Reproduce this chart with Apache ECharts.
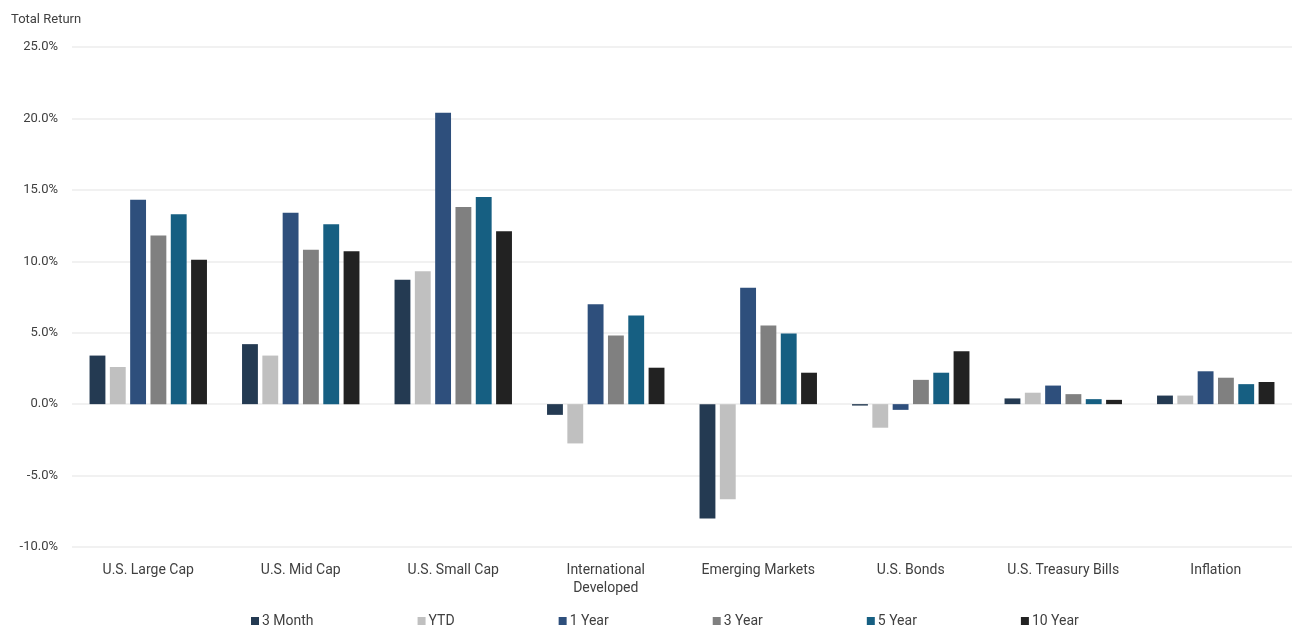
<!DOCTYPE html>
<html>
<head>
<meta charset="utf-8">
<script src="https://cdn.jsdelivr.net/npm/echarts@6/dist/echarts.min.js"></script>
<style>
  html, body { margin: 0; padding: 0; background: #fff; }
  #chart { width: 1294px; height: 635px; }
</style>
</head>
<body>
<div id="chart"></div>
<script>
// asset classes
const categories = ["U.S. Large Cap", "U.S. Mid Cap", "U.S. Small Cap", "International\nDeveloped",
  "Emerging Markets", "U.S. Bonds", "U.S. Treasury Bills", "Inflation"];

// returns in %
const month3 = [3.4, 4.2, 8.7, -0.75, -8.0, -0.1, 0.4, 0.6];
const ytd = [2.6, 3.4, 9.3, -2.75, -6.65, -1.65, 0.8, 0.6];
const year1 = [14.3, 13.4, 20.4, 7.0, 8.15, -0.4, 1.3, 2.3];
const year3 = [11.8, 10.8, 13.8, 4.8, 5.5, 1.7, 0.7, 1.85];
const year5 = [13.3, 12.6, 14.5, 6.2, 4.95, 2.2, 0.35, 1.4];
const year10 = [10.1, 10.7, 12.1, 2.55, 2.2, 3.7, 0.3, 1.55];

const yTicks = [-10, -5, 0, 5, 10, 15, 20, 25];

const seriesNames = ["3 Month", "YTD", "1 Year", "3 Year", "5 Year", "10 Year"];
const seriesData = [month3, ytd, year1, year3, year5, year10];
const colors = ["#243a52", "#c0c0c0", "#2e4f7c", "#808080", "#165f82", "#222222"];

const font = "Roboto, sans-serif";

let mychart = echarts.init(document.getElementById("chart"));
mychart.setOption({
  animation: false,
  color: colors,
  textStyle: { fontFamily: font },
  title: {
    text: "Total Return",
    left: 6,
    top: 8,
    textStyle: { fontSize: 13, fontWeight: "normal", color: "#404040", fontFamily: font },
  },
  legend: {
    data: seriesNames,
    bottom: 2,
    left: 246,
    itemGap: 104,
    itemWidth: 8,
    itemHeight: 8,
    icon: "rect",
    textStyle: { fontSize: 14, color: "#404040", padding: [0, 0, 0, -2] },
  },
  grid: { left: 72, right: 2, top: 47, bottom: 88 },
  xAxis: {
    type: "category",
    data: categories,
    axisLine: { show: false },
    axisTick: { show: false },
    axisLabel: { color: "#404040", fontSize: 14, margin: 14, lineHeight: 18, interval: 0 },
  },
  yAxis: {
    type: "value",
    min: yTicks[0],
    max: yTicks[yTicks.length - 1],
    interval: 5,
    axisLabel: {
      color: "#404040",
      fontSize: 13,
      margin: 14,
      formatter: (v) => v.toFixed(1) + "%",
    },
    splitLine: { lineStyle: { color: "#ececec", width: 1.5 } },
  },
  series: seriesNames.map((name, i) => ({
    name: name,
    type: "bar",
    data: seriesData[i],
    barGap: "28%",
    barCategoryGap: "23%",
  })),
});
</script>
</body>
</html>
